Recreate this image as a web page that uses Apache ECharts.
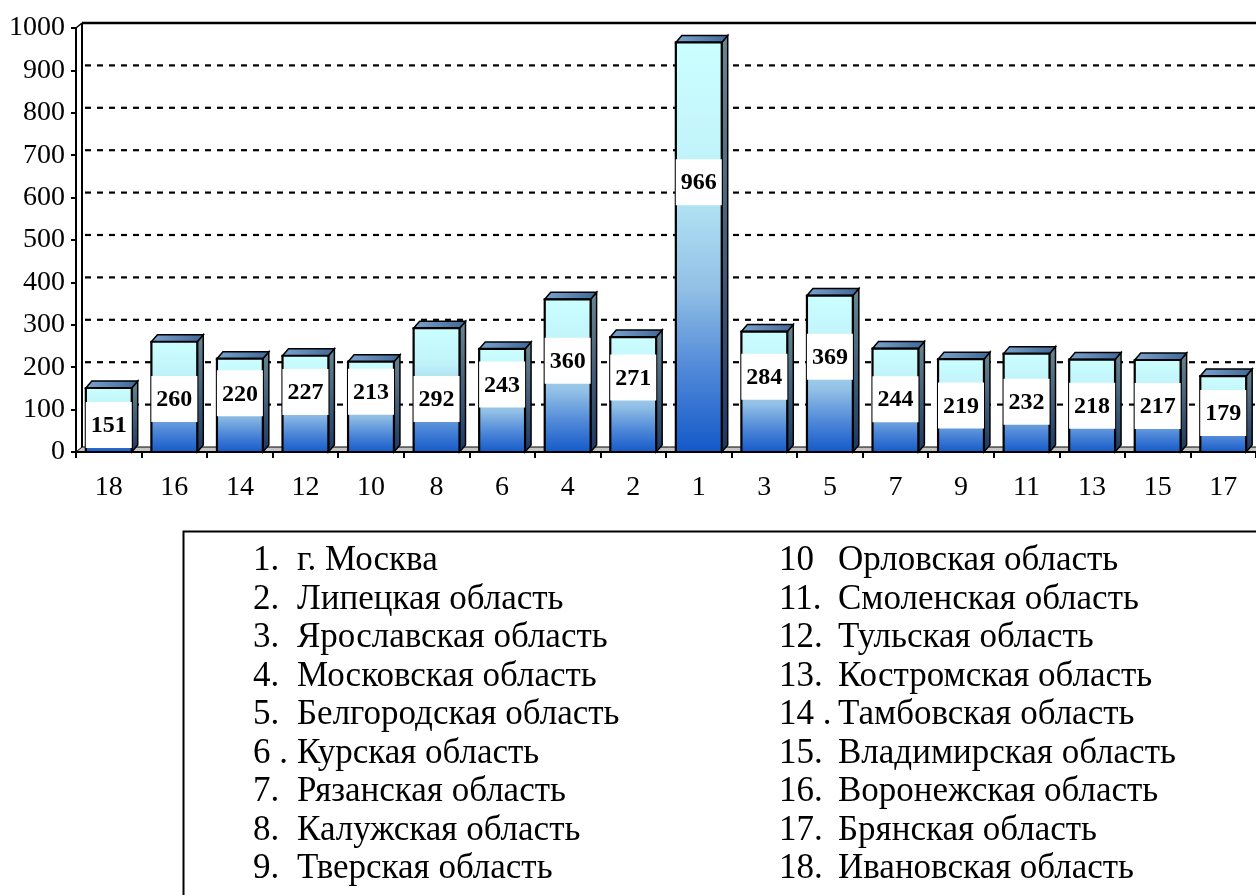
<!DOCTYPE html>
<html>
<head>
<meta charset="utf-8">
<script src="https://cdn.jsdelivr.net/npm/echarts@6/dist/echarts.min.js"></script>
<style>
  html, body { margin: 0; padding: 0; background: #ffffff; }
  #chart { width: 1256px; height: 895px; }
</style>
</head>
<body>
<div id="chart"></div>
<script>
// Region numbers along the horizontal axis, in display order
const categories = ['18', '16', '14', '12', '10', '8', '6', '4', '2', '1', '3', '5', '7', '9', '11', '13', '15', '17'];
// Value for each region, same order as categories
const values = [151, 260, 220, 227, 213, 292, 243, 360, 271, 966, 284, 369, 244, 219, 232, 218, 217, 179];
// Value axis ticks
const yMin = 0;
const yMax = 1000;
const yStep = 100;

// Key of region names, two columns
const keyNumbersLeft = ['1.', '2.', '3.', '4.', '5.', '6 .', '7.', '8.', '9.'];
const keyNamesLeft = ['г. Москва', 'Липецкая область', 'Ярославская область', 'Московская область',
  'Белгородская область', 'Курская область', 'Рязанская область', 'Калужская область', 'Тверская область'];
const keyNumbersRight = ['10', '11.', '12.', '13.', '14 .', '15.', '16.', '17.', '18.'];
const keyNamesRight = ['Орловская область', 'Смоленская область', 'Тульская область', 'Костромская область',
  'Тамбовская область', 'Владимирская область', 'Воронежская область', 'Брянская область', 'Ивановская область'];

// Vertical nudge (px) of each value tag relative to the middle of its bar
const labelShift = [5, 2, -12, -12, -15, 9, -16, -15, -17, -65, -15, -17, -1, 0, -1, 0, 0, -1];

const SERIF = '"Liberation Serif", "Times New Roman", serif';
const BAR_DX = 6, BAR_DY = 7;     // bar extrusion depth
const WALL_DX = 6, WALL_DY = 5;   // back wall offset

const chart = echarts.init(document.getElementById('chart'), null, { renderer: 'canvas' });

function frameItem(params, api) {
  const cs = params.coordSys;
  const x0 = cs.x, x1 = cs.x + cs.width + 20;
  const y0 = api.coord([0, yMin])[1];
  const yTop = api.coord([0, yMax])[1];
  const children = [];
  // floor
  children.push({
    type: 'polygon',
    shape: { points: [[x0, y0], [x1, y0], [x1 + WALL_DX, y0 - WALL_DY], [x0 + WALL_DX, y0 - WALL_DY]] },
    style: { fill: '#c4c4c4', stroke: '#000', lineWidth: 1 }
  });
  // back wall gridlines
  for (let v = yMin + yStep; v < yMax; v += yStep) {
    const y = api.coord([0, v])[1] - WALL_DY;
    children.push({
      type: 'line',
      shape: { x1: x0 + WALL_DX + 3, y1: y, x2: x1, y2: y },
      style: { stroke: '#000', lineWidth: 2.2, lineDash: [6, 6] }
    });
  }
  // top edge of the back wall
  children.push({
    type: 'line',
    shape: { x1: x0 + WALL_DX, y1: yTop - WALL_DY, x2: x1, y2: yTop - WALL_DY },
    style: { stroke: '#000', lineWidth: 2.5 }
  });
  // left edge of the back wall
  children.push({
    type: 'line',
    shape: { x1: x0 + WALL_DX, y1: yTop - WALL_DY, x2: x0 + WALL_DX, y2: y0 - WALL_DY },
    style: { stroke: '#000', lineWidth: 2 }
  });
  // corner joining front axis and back wall
  children.push({
    type: 'line',
    shape: { x1: x0, y1: yTop, x2: x0 + WALL_DX, y2: yTop - WALL_DY },
    style: { stroke: '#000', lineWidth: 1.5 }
  });
  return { type: 'group', children: children };
}

function barItem(params, api) {
  const i = params.dataIndex;
  const top = api.coord([api.value(0), api.value(1)]);
  const base = api.coord([api.value(0), yMin]);
  const bw = api.size([1, 0])[0] * 0.70;
  const x = top[0] - bw / 2;
  const yT = top[1], yB = base[1];
  const cx = top[0];
  const cy = (yT + yB) / 2 + labelShift[i];
  return {
    type: 'group',
    children: [
      {
        type: 'polygon',
        shape: { points: [[x + bw, yT], [x + bw + BAR_DX, yT - BAR_DY], [x + bw + BAR_DX, yB - BAR_DY], [x + bw, yB]] },
        style: {
          fill: { type: 'linear', x: 0, y: 0, x2: 0, y2: 1,
            colorStops: [{ offset: 0, color: '#6a8690' }, { offset: 1, color: '#1c3862' }] },
          stroke: '#000', lineWidth: 1.5
        }
      },
      {
        type: 'polygon',
        shape: { points: [[x, yT], [x + BAR_DX, yT - BAR_DY], [x + bw + BAR_DX, yT - BAR_DY], [x + bw, yT]] },
        style: {
          fill: { type: 'linear', x: 0, y: 0, x2: 1, y2: 0,
            colorStops: [{ offset: 0, color: '#7aa4d0' }, { offset: 1, color: '#3f6796' }] },
          stroke: '#000', lineWidth: 1.5
        }
      },
      {
        type: 'rect',
        shape: { x: x, y: yT, width: bw, height: yB - yT },
        style: {
          fill: { type: 'linear', x: 0, y: 0, x2: 0, y2: 1,
            colorStops: [
              { offset: 0, color: '#ccffff' },
              { offset: 0.3, color: '#c0f2fa' },
              { offset: 0.6, color: '#92c0e6' },
              { offset: 0.8, color: '#4f88d8' },
              { offset: 1, color: '#1258c8' }
            ] },
          stroke: '#000', lineWidth: 2.2
        }
      },
      {
        type: 'rect',
        shape: { x: cx - 23, y: cy - 23, width: 46, height: 46 },
        style: { fill: '#ffffff' }
      },
      {
        type: 'text',
        style: {
          x: cx, y: cy + 1,
          text: String(api.value(1)),
          align: 'center', verticalAlign: 'middle',
          font: 'bold 24px ' + SERIF,
          fill: '#000'
        }
      }
    ]
  };
}

// Key panel below the chart
const keyGraphics = [{
  type: 'rect',
  left: 181, top: 529,
  shape: { x: 0, y: 0, width: 1200, height: 500 },
  style: { fill: 'none', stroke: '#000', lineWidth: 2 },
  silent: true
}];
const KEY_Y0 = 561, KEY_STEP = 38.5;
const KEY_FONT = '35px ' + SERIF;
function addKeyColumn(nums, names, xNum, xName) {
  nums.forEach(function (n, k) {
    const y = KEY_Y0 + k * KEY_STEP;
    keyGraphics.push({ type: 'text', x: xNum, y: y,
      style: { text: n, font: KEY_FONT, fill: '#000', verticalAlign: 'middle' } });
    keyGraphics.push({ type: 'text', x: xName, y: y,
      style: { text: names[k], font: KEY_FONT, fill: '#000', verticalAlign: 'middle' } });
  });
}
addKeyColumn(keyNumbersLeft, keyNamesLeft, 253, 297);
addKeyColumn(keyNumbersRight, keyNamesRight, 779, 838);

chart.setOption({
  animation: false,
  backgroundColor: '#ffffff',
  grid: { left: 76, top: 28, width: 1183, height: 424, containLabel: false },
  xAxis: {
    type: 'category',
    data: categories,
    boundaryGap: true,
    axisLine: { show: true, lineStyle: { color: '#000', width: 2 } },
    axisTick: { show: true, length: 6, lineStyle: { color: '#000', width: 2 } },
    axisLabel: { color: '#000', fontFamily: SERIF, fontSize: 28, margin: 22 },
    splitLine: { show: false },
    z: 5
  },
  yAxis: {
    type: 'value',
    min: yMin, max: yMax, interval: yStep,
    axisLine: { show: true, lineStyle: { color: '#000', width: 2 } },
    axisTick: { show: true, length: 5, lineStyle: { color: '#000', width: 2 } },
    axisLabel: { color: '#000', fontFamily: SERIF, fontSize: 28, margin: 11,
      formatter: function (v) { return String(v); } },
    splitLine: { show: false },
    z: 5
  },
  series: [
    {
      type: 'custom',
      renderItem: frameItem,
      data: [[0, 0]],
      encode: { x: 0, y: 1 },
      silent: true,
      clip: false,
      z: 1
    },
    {
      type: 'custom',
      renderItem: barItem,
      data: values.map(function (v, i) { return [i, v]; }),
      encode: { x: 0, y: 1 },
      silent: true,
      clip: false,
      z: 3
    }
  ],
  graphic: keyGraphics
});
</script>
</body>
</html>
